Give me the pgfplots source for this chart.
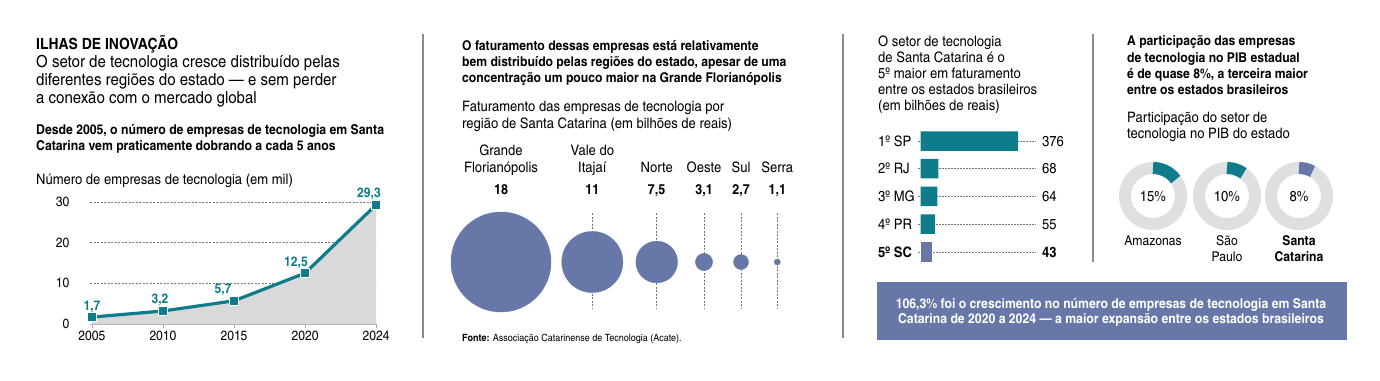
\documentclass[border=0pt]{standalone}
\usepackage{fontspec}
\setmainfont{texgyreheroscn}[Extension=.otf,UprightFont=*-regular,BoldFont=*-bold,ItalicFont=*-italic,BoldItalicFont=*-bolditalic,FakeStretch=1.1]
\usepackage{pgfplots}
\pgfplotsset{compat=1.18}
\usepackage{pgfplotstable}
\definecolor{teal2}{RGB}{14,124,139}
\definecolor{slate}{RGB}{102,119,168}
\definecolor{areagray}{RGB}{217,217,217}
\definecolor{ringgray}{RGB}{222,223,225}
\definecolor{sepgray}{RGB}{140,140,140}
\definecolor{gridgray}{RGB}{120,120,120}

\newcommand\fTitle{\fontsize{15.5}{15.5}\selectfont\bfseries}
\newcommand\fBody{\fontsize{16.7}{16.7}\selectfont}
\newcommand\fSubA{\fontsize{13.6}{13.6}\selectfont\bfseries}
\newcommand\fSub{\fontsize{13.5}{13.5}\selectfont\bfseries}
\newcommand\fBox{\fontsize{13.6}{13.6}\selectfont\bfseries}
\newcommand\fLab{\fontsize{14.5}{14.5}\selectfont}
\newcommand\fTick{\fontsize{13.5}{13.5}\selectfont}
\newcommand\TL[4]{\node[anchor=base west,inner sep=0pt,font=#3] at (#1,{380-#2}) {#4};}
\newcommand\TC[4]{\node[anchor=base,inner sep=0pt,font=#3] at (#1,{380-#2}) {#4};}

\pgfplotstableread{
i v dx
0 1.7 0
1 3.2 -3
2 5.7 -11
3 12.5 -9
4 29.3 -7
}\empresas

\pgfplotsset{bub/.style={only marks, mark=*, color=slate, mark options={draw=slate, fill=slate},
  point meta=explicit,
  nodes near coords={\pgfmathprintnumber[use comma,assume math mode=true]{\pgfplotspointmeta}},
  every node near coord/.append style={font=\fontsize{14}{14}\selectfont\bfseries, text=black, anchor=base, inner sep=0pt, yshift=68bp}}}

\begin{document}
\begin{tikzpicture}[x=1bp,y=1bp]
\path[use as bounding box] (0,0) rectangle (1380,380);
\coordinate (LC) at (90,56);
\coordinate (BC) at (423,118);
\coordinate (RC) at (920.7,114.35);
\coordinate (DC) at (1100,150);

% ---------- Panel 1 ----------
\TL{36}{49.5}{\fTitle}{ILHAS DE INOVAÇÃO}
\TL{36}{67.5}{\fBody}{O setor de tecnologia cresce distribuído pelas}
\TL{36}{85.5}{\fBody}{diferentes regiões do estado — e sem perder}
\TL{36}{103.5}{\fBody}{a conexão com o mercado global}
\TL{36}{134}{\fSubA}{Desde 2005, o número de empresas de tecnologia em Santa}
\TL{36}{150}{\fSubA}{Catarina vem praticamente dobrando a cada 5 anos}
\TL{36}{184}{\fLab}{Número de empresas de tecnologia (em mil)}

\begin{axis}[
  at={(LC)}, anchor=south west,
  scale only axis, width=287bp, height=122bp,
  xmin=-0.028, xmax=4.014, ymin=0, ymax=30,
  clip=false,
  axis x line*=bottom, axis y line*=left,
  x axis line style={draw=gray!60, line width=0.6pt},
  y axis line style={draw=none},
  xtick={0,1,2,3,4}, xticklabels={2005,2010,2015,2020,2024},
  ytick={0,10,20,30},
  ymajorgrids, grid style={gridgray, line width=0.5pt, dash pattern=on 2bp off 1.5bp},
  major tick length=4bp, tick align=outside,
  xtick style={gray!70, line width=0.6pt},
  ytick style={draw=none},
  ticklabel style={font=\fTick},
  yticklabel style={xshift=-13bp},
  /pgf/number format/assume math mode=true,
]
\addplot[fill=areagray, draw=none] table[x=i,y=v]{\empresas} \closedcycle;
\addplot[teal2, line width=3.2bp, mark=square*, mark size=4.5bp,
  mark options={fill=teal2, draw=white, line width=0.8bp},
  point meta=explicit,
  visualization depends on={\thisrow{dx} \as \dx},
  nodes near coords={\pgfmathprintnumber[fixed,fixed zerofill,precision=1,use comma,assume math mode=true]{\pgfplotspointmeta}},
  every node near coord/.append style={font=\fontsize{13.5}{13.5}\selectfont\bfseries, text=teal2, anchor=base, inner sep=0pt, yshift=7bp, xshift=\dx bp}]
  table[x=i,y=v,meta=v]{\empresas};
\end{axis}

% separators
\draw[sepgray, line width=1.2bp] (423,346) -- (423,42);
\draw[sepgray, line width=1.2bp] (843,346) -- (843,42);
\draw[sepgray, line width=1.2bp] (1093,346) -- (1093,118);

% ---------- Panel 2 ----------
\TL{462}{50}{\fSub}{O faturamento dessas empresas está relativamente}
\TL{462}{66}{\fSub}{bem distribuído pelas regiões do estado, apesar de uma}
\TL{462}{82}{\fSub}{concentração um pouco maior na Grande Florianópolis}
\TL{462}{111}{\fLab}{Faturamento das empresas de tecnologia por}
\TL{462}{128}{\fLab}{região de Santa Catarina (em bilhões de reais)}
\TC{501}{155}{\fLab}{Grande}
\TC{501}{172}{\fLab}{Florianópolis}
\TC{592.3}{155}{\fLab}{Vale do}
\TC{592.3}{172}{\fLab}{Itajaí}
\TC{656.7}{172}{\fLab}{Norte}
\TC{704}{172}{\fLab}{Oeste}
\TC{741}{172}{\fLab}{Sul}
\TC{777.3}{172}{\fLab}{Serra}
\foreach \xx in {501,592.3,656.7,704,741,777.3}{
  \draw[gridgray, line width=0.5pt, dash pattern=on 2bp off 1.5bp] (\xx,{380-213}) -- (\xx,{380-308});
}
\begin{axis}[at={(BC)}, anchor=west, scale only axis, width=420bp, height=20bp,
  xmin=423, xmax=843, ymin=-1, ymax=1, hide axis, clip=false]
\addplot[bub, mark size=50bp] coordinates {(501,0) [18]};
\addplot[bub, mark size=30.56bp] coordinates {(592.3,0) [11]};
\addplot[bub, mark size=20.83bp] coordinates {(656.7,0) [7.5]};
\addplot[bub, mark size=8.61bp] coordinates {(704,0) [3.1]};
\addplot[bub, mark size=7.5bp] coordinates {(741,0) [2.7]};
\addplot[bub, mark size=3.06bp] coordinates {(777.3,0) [1.1]};
\end{axis}
\TL{462}{341}{\fontsize{10}{10}\selectfont}{\textbf{Fonte:} Associação Catarinense de Tecnologia (Acate).}

% ---------- Panel 3 ----------
\TL{878}{46}{\fLab}{O setor de tecnologia}
\TL{878}{62.5}{\fLab}{de Santa Catarina é o}
\TL{878}{78.5}{\fLab}{5º maior em faturamento}
\TL{878}{94.5}{\fLab}{entre os estados brasileiros}
\TL{878}{110}{\fLab}{(em bilhões de reais)}
\TL{878}{146.2}{\fLab}{1º SP}
\TL{878}{173.9}{\fLab}{2º RJ}
\TL{878}{201.6}{\fLab}{3º MG}
\TL{878}{229.3}{\fLab}{4º PR}
\TL{878}{257}{\fLab\bfseries}{5º SC}
\begin{axis}[at={(RC)}, anchor=south west, scale only axis, width=97.3bp, height=138.5bp,
  xmin=0, xmax=376, ymin=-0.5, ymax=4.5, hide axis, clip=false,
  xbar, bar width=19.5bp, bar shift=0pt]
\pgfplotsinvokeforeach{0,...,4}{
  \draw[gridgray, line width=0.5pt, dash pattern=on 1.5bp off 1.5bp] (axis cs:-10,#1) -- (axis cs:445,#1);
}
\addplot[draw=none, fill=teal2] coordinates {(376,4) (68,3) (64,2) (55,1)};
\addplot[draw=none, fill=slate] coordinates {(43,0)};
\end{axis}
\TL{1042}{146.2}{\fLab}{376}
\TL{1042}{173.9}{\fLab}{68}
\TL{1042}{201.6}{\fLab}{64}
\TL{1042}{229.3}{\fLab}{55}
\TL{1042}{257}{\fLab\bfseries}{43}

% ---------- Panel 4 ----------
\TL{1127}{45.5}{\fSub}{A participação das empresas}
\TL{1127}{62}{\fSub}{de tecnologia no PIB estadual}
\TL{1127}{78}{\fSub}{é de quase 8\%, a terceira maior}
\TL{1127}{94}{\fSub}{entre os estados brasileiros}
\TL{1127}{122}{\fLab}{Participação do setor de}
\TL{1127}{138}{\fLab}{tecnologia no PIB do estado}
\begin{axis}[at={(DC)}, anchor=south west, scale only axis, width=250bp, height=90bp,
  xmin=1100, xmax=1350, ymin=150, ymax=240, hide axis, clip=false]
\draw[ringgray, line width=12bp] (axis cs:1153,184) circle[radius=28bp];
\draw[ringgray, line width=12bp] (axis cs:1227,184) circle[radius=28bp];
\draw[ringgray, line width=12bp] (axis cs:1299,184) circle[radius=28bp];
\draw[teal2, line width=12bp] (axis cs:1153,212) arc[start angle=90, end angle=36, radius=28bp];
\draw[teal2, line width=12bp] (axis cs:1227,212) arc[start angle=90, end angle=54, radius=28bp];
\draw[slate, line width=12bp] (axis cs:1299,212) arc[start angle=90, end angle=61.2, radius=28bp];
\end{axis}
\TC{1153}{201.2}{\fLab}{15\%}
\TC{1227}{201.2}{\fLab}{10\%}
\TC{1299}{201.2}{\fLab}{8\%}
\TC{1153}{245.5}{\fTick}{Amazonas}
\TC{1227}{245.5}{\fTick}{São}
\TC{1227}{261.5}{\fTick}{Paulo}
\TC{1299}{245.5}{\fTick\bfseries}{Santa}
\TC{1299}{261.5}{\fTick\bfseries}{Catarina}

% box
\fill[slate] (877,{380-282}) rectangle (1347,{380-339.7});
\TC{1111}{308.3}{\fBox\color{white}}{106,3\% foi o crescimento no número de empresas de tecnologia em Santa}
\TC{1111}{323.8}{\fBox\color{white}}{Catarina de 2020 a 2024 — a maior expansão entre os estados brasileiros}
\end{tikzpicture}
\end{document}
